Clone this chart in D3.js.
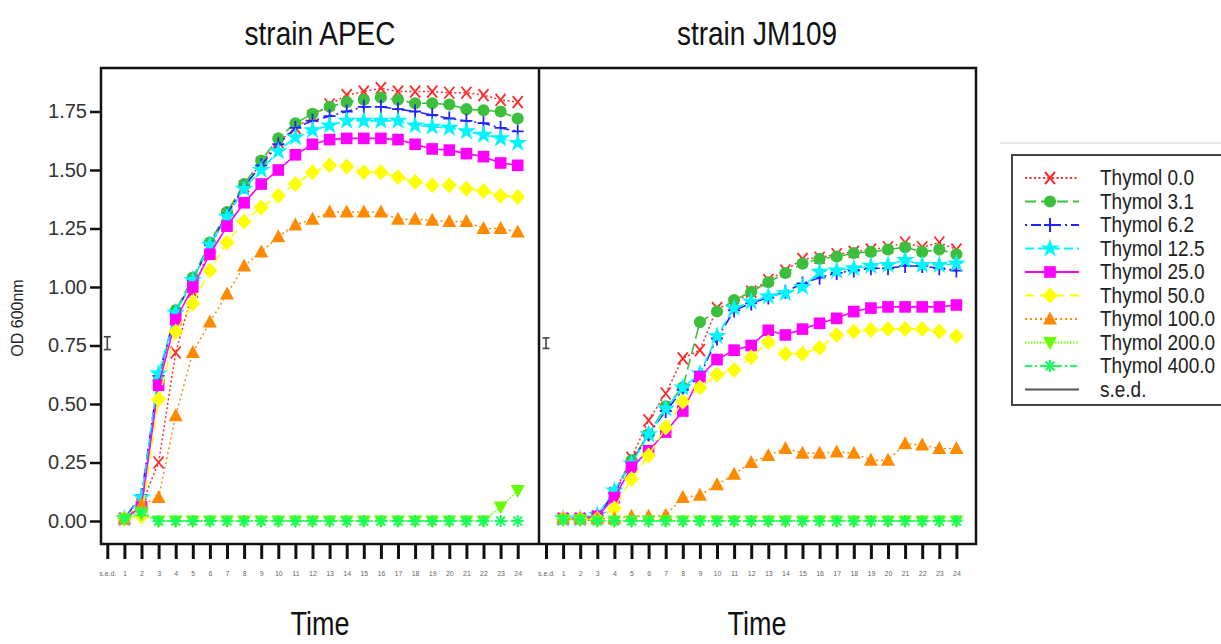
<!DOCTYPE html>
<html>
<head>
<meta charset="utf-8" />
<title>Thymol growth curves</title>
<script src="https://d3js.org/d3.v7.min.js"></script>
<style>
    body { margin: 0; background-color: white; }
    svg { font-family: 'Liberation Sans', Arial, sans-serif; display: block; }
    .xaxis text { font-size: 7px; fill: #666; }
    .yaxis text { font-size: 20px; fill: #333; }
</style>
</head>
<body>
<div id="container"></div>
<script>
// time points and tick labels
var times = [1, 2, 3, 4, 5, 6, 7, 8, 9, 10, 11, 12, 13, 14, 15, 16, 17, 18, 19, 20, 21, 22, 23, 24];
var xTickLabels = ["s.e.d.", "1", "2", "3", "4", "5", "6", "7", "8", "9", "10", "11", "12",
    "13", "14", "15", "16", "17", "18", "19", "20", "21", "22", "23", "24"];
var yTicks = [0, 0.25, 0.5, 0.75, 1.0, 1.25, 1.5, 1.75];
var seriesNames = ["Thymol 0.0", "Thymol 3.1", "Thymol 6.2", "Thymol 12.5", "Thymol 25.0",
    "Thymol 50.0", "Thymol 100.0", "Thymol 200.0", "Thymol 400.0"];
var panelTitles = ["strain APEC", "strain JM109"];

// strain APEC (OD 600nm)
var apec00 = [0.01, 0.07, 0.25, 0.72, 0.98, 1.17, 1.31, 1.43, 1.53, 1.62, 1.68, 1.73, 1.78, 1.82, 1.835, 1.85, 1.835, 1.835, 1.835, 1.83, 1.83, 1.82, 1.80, 1.79];
var apec31 = [0.01, 0.06, 0.60, 0.90, 1.04, 1.19, 1.32, 1.44, 1.54, 1.635, 1.70, 1.74, 1.77, 1.79, 1.80, 1.81, 1.80, 1.785, 1.785, 1.78, 1.76, 1.755, 1.75, 1.72];
var apec62 = [0.01, 0.11, 0.62, 0.89, 1.03, 1.18, 1.31, 1.43, 1.52, 1.61, 1.68, 1.71, 1.73, 1.75, 1.77, 1.77, 1.76, 1.75, 1.735, 1.72, 1.71, 1.70, 1.68, 1.665];
var apec125 = [0.01, 0.10, 0.63, 0.89, 1.03, 1.18, 1.30, 1.42, 1.50, 1.58, 1.64, 1.67, 1.69, 1.71, 1.71, 1.71, 1.71, 1.69, 1.685, 1.68, 1.665, 1.65, 1.635, 1.615];
var apec250 = [0.01, 0.06, 0.58, 0.86, 1.00, 1.14, 1.26, 1.36, 1.44, 1.50, 1.565, 1.61, 1.63, 1.635, 1.635, 1.635, 1.63, 1.61, 1.59, 1.585, 1.57, 1.557, 1.53, 1.52];
var apec500 = [0.01, 0.02, 0.52, 0.81, 0.93, 1.07, 1.19, 1.28, 1.34, 1.39, 1.44, 1.49, 1.52, 1.515, 1.49, 1.49, 1.47, 1.45, 1.435, 1.435, 1.42, 1.41, 1.39, 1.385];
var apec1000 = [0.01, 0.07, 0.10, 0.45, 0.72, 0.85, 0.97, 1.09, 1.15, 1.215, 1.265, 1.29, 1.32, 1.32, 1.32, 1.32, 1.29, 1.29, 1.285, 1.28, 1.28, 1.25, 1.25, 1.235];
var apec2000 = [0.01, 0.03, 0, 0, 0, 0, 0, 0, 0, 0, 0, 0, 0, 0, 0, 0, 0, 0, 0, 0, 0, 0, 0.06, 0.13];
var apec4000 = [0.01, 0.04, 0, 0, 0, 0, 0, 0, 0, 0, 0, 0, 0, 0, 0, 0, 0, 0, 0, 0, 0, 0, 0, 0];

// strain JM109 (OD 600nm)
var jm00 = [0.01, 0.01, 0.02, 0.12, 0.27, 0.43, 0.545, 0.695, 0.73, 0.91, 0.93, 0.98, 1.03, 1.07, 1.12, 1.125, 1.14, 1.15, 1.16, 1.17, 1.19, 1.17, 1.19, 1.16];
var jm31 = [0.01, 0.01, 0.02, 0.12, 0.26, 0.37, 0.49, 0.57, 0.85, 0.895, 0.944, 0.98, 1.02, 1.06, 1.10, 1.12, 1.13, 1.145, 1.15, 1.16, 1.17, 1.15, 1.16, 1.14];
var jm62 = [0.01, 0.01, 0.02, 0.12, 0.25, 0.37, 0.47, 0.56, 0.62, 0.78, 0.90, 0.93, 0.955, 0.98, 1.015, 1.04, 1.06, 1.07, 1.08, 1.08, 1.09, 1.09, 1.08, 1.07];
var jm125 = [0.01, 0.01, 0.025, 0.13, 0.245, 0.37, 0.48, 0.57, 0.63, 0.79, 0.91, 0.937, 0.96, 0.973, 1.0, 1.065, 1.07, 1.08, 1.09, 1.094, 1.115, 1.094, 1.094, 1.10];
var jm250 = [0.01, 0.01, 0.02, 0.10, 0.23, 0.30, 0.38, 0.47, 0.617, 0.69, 0.73, 0.75, 0.815, 0.795, 0.82, 0.845, 0.866, 0.895, 0.91, 0.915, 0.915, 0.915, 0.915, 0.923];
var jm500 = [0.01, 0.01, 0.01, 0.055, 0.18, 0.28, 0.40, 0.51, 0.57, 0.625, 0.645, 0.70, 0.765, 0.715, 0.715, 0.74, 0.795, 0.81, 0.816, 0.82, 0.82, 0.82, 0.81, 0.79];
var jm1000 = [0.01, 0.01, 0.01, 0.01, 0.02, 0.02, 0.025, 0.10, 0.11, 0.155, 0.20, 0.25, 0.28, 0.31, 0.29, 0.29, 0.295, 0.29, 0.26, 0.26, 0.33, 0.325, 0.31, 0.31];
var jm2000 = [0.005, 0.005, 0, 0, 0, 0, 0, 0, 0, 0, 0, 0, 0, 0, 0, 0, 0, 0, 0, 0, 0, 0, 0, 0];
var jm4000 = [0.005, 0.005, 0, 0, 0, 0, 0, 0, 0, 0, 0, 0, 0, 0, 0, 0, 0, 0, 0, 0, 0, 0, 0, 0];

// s.e.d. bars (centre, full length)
var sedCentre = [0.76, 0.76];
var sedLength = [0.055, 0.045];

var apecSeries = [apec00, apec31, apec62, apec125, apec250, apec500, apec1000, apec2000, apec4000];
var jmSeries = [jm00, jm31, jm62, jm125, jm250, jm500, jm1000, jm2000, jm4000];

/* line + marker styles, one per thymol level */
var styles = [
    { color: "#ff2a2a", dash: "2,2.5", width: 1.5, marker: "x" },
    { color: "#3cbf3c", dash: "11,5", width: 1.6, marker: "circle" },
    { color: "#2222ff", dash: "2,4,10,4", width: 1.6, marker: "plus" },
    { color: "#00f5ff", dash: "9,4", width: 1.6, marker: "star" },
    { color: "#ff00ff", dash: null, width: 1.6, marker: "square" },
    { color: "#ffff00", dash: "9,6", width: 1.6, marker: "diamond" },
    { color: "#ff8a00", dash: "2,3", width: 1.5, marker: "triangle" },
    { color: "#66ff00", dash: "1.5,1.5", width: 1.5, marker: "triangleDown" },
    { color: "#18ff60", dash: "7,3,2,3", width: 1.5, marker: "asterisk" }
];

var width = 1221, height = 644;
var plotTop = 68, plotBottom = 544, plotLeft = 101, plotMid = 539, plotRight = 976;

var svg = d3.select("#container").append("svg")
    .attr("width", width).attr("height", height);

var y = d3.scaleLinear().domain([0, 1.75]).range([521, 111.5]);
var xScales = [
    d3.scaleLinear().domain([0, 24]).range([107.3, 517.7]),
    d3.scaleLinear().domain([0, 24]).range([546, 956.4])
];

function markerPath(type) {
    switch (type) {
        case "circle": return d3.symbol(d3.symbolCircle, 115)();
        case "square": return d3.symbol(d3.symbolSquare, 135)();
        case "diamond": return "M0,-8L7.5,0L0,8L-7.5,0Z";
        case "triangle": return "M0,-7.5L7,5.5L-7,5.5Z";
        case "triangleDown": return "M0,7.5L7,-5.5L-7,-5.5Z";
        case "star": return d3.symbol(d3.symbolStar, 110)();
        case "x": return "M-5,-6L5,6M-5,6L5,-6";
        case "plus": return "M-6,0L6,0M0,-7L0,7";
        case "asterisk": return "M-6,0L6,0M0,-6L0,6M-4.5,-4.5L4.5,4.5M-4.5,4.5L4.5,-4.5";
    }
}
function isStroke(type) { return type === "x" || type === "plus" || type === "asterisk"; }

function tallText(g, x, yy, txt, size, sy, anchor) {
    return g.append("text")
        .attr("transform", "translate(" + x + "," + yy + ") scale(1," + sy + ")")
        .attr("text-anchor", anchor || "middle")
        .style("font-size", size + "px")
        .style("fill", "#111")
        .text(txt);
}

/* right-hand page decoration */
svg.append("line").attr("x1", 1000).attr("x2", width).attr("y1", 143).attr("y2", 143)
    .attr("stroke", "#e2e2e2").attr("stroke-width", 1.5);

/* panel titles and x titles */
[panelTitles[0], panelTitles[1]].forEach(function (t, i) {
    var cx = i === 0 ? 320 : 757;
    tallText(svg, cx, 45, t, 28, 1.18);
    tallText(svg, cx, 635, "Time", 27, 1.2);
});

svg.append("text")
    .attr("transform", "translate(23,318) rotate(-90)")
    .attr("text-anchor", "middle")
    .style("font-size", "16px").style("fill", "#222")
    .text("OD 600nm");

/* y axis */
var yAxis = svg.append("g").attr("class", "yaxis")
    .attr("transform", "translate(" + plotLeft + ",0)")
    .call(d3.axisLeft(y).tickValues(yTicks).tickSize(11).tickPadding(3).tickFormat(d3.format(".2f")));
yAxis.select(".domain").remove();
yAxis.selectAll("line").attr("stroke", "#111").attr("stroke-width", 2.5);

/* x axes */
xScales.forEach(function (x) {
    var ax = svg.append("g").attr("class", "xaxis")
        .attr("transform", "translate(0," + plotBottom + ")")
        .call(d3.axisBottom(x).tickValues(d3.range(0, 25)).tickSize(15).tickPadding(12)
            .tickFormat(function (d, i) { return xTickLabels[i]; }));
    ax.select(".domain").remove();
    ax.selectAll("line").attr("stroke", "#111").attr("stroke-width", 3);
});

/* data */
[apecSeries, jmSeries].forEach(function (series, p) {
    var x = xScales[p];
    var g = svg.append("g");
    var line = d3.line().x(function (d, i) { return x(times[i]); }).y(function (d) { return y(d); });

    series.forEach(function (vals, k) {
        var st = styles[k];
        g.append("path").datum(vals)
            .attr("d", line)
            .attr("fill", "none")
            .attr("stroke", st.color)
            .attr("stroke-width", st.width)
            .attr("stroke-dasharray", st.dash);
        g.selectAll(".m" + k).data(vals).enter().append("path")
            .attr("class", "m" + k)
            .attr("transform", function (d, i) { return "translate(" + x(times[i]) + "," + y(d) + ")"; })
            .attr("d", markerPath(st.marker))
            .attr("fill", isStroke(st.marker) ? "none" : st.color)
            .attr("stroke", isStroke(st.marker) ? st.color : "none")
            .attr("stroke-width", 1.8);
    });

    // s.e.d. I-bar at the s.e.d. tick
    var sx = x(0), y1 = y(sedCentre[p] + sedLength[p] / 2), y2 = y(sedCentre[p] - sedLength[p] / 2);
    var sg = g.append("g").attr("stroke", "#444").attr("stroke-width", 1.6);
    sg.append("line").attr("x1", sx).attr("x2", sx).attr("y1", y1).attr("y2", y2);
    sg.append("line").attr("x1", sx - 3.5).attr("x2", sx + 3.5).attr("y1", y1).attr("y2", y1);
    sg.append("line").attr("x1", sx - 3.5).attr("x2", sx + 3.5).attr("y1", y2).attr("y2", y2);
});

/* panel frames */
svg.append("rect")
    .attr("x", plotLeft).attr("y", plotTop)
    .attr("width", plotRight - plotLeft).attr("height", plotBottom - plotTop)
    .attr("fill", "none").attr("stroke", "#111").attr("stroke-width", 2.5);
svg.append("line")
    .attr("x1", plotMid).attr("x2", plotMid).attr("y1", plotTop).attr("y2", plotBottom)
    .attr("stroke", "#111").attr("stroke-width", 2.5);

/* legend */
var legend = svg.append("g");
legend.append("rect")
    .attr("x", 1012).attr("y", 155).attr("width", 230).attr("height", 250)
    .attr("fill", "white").attr("stroke", "#444").attr("stroke-width", 2);

var rowY = d3.scaleLinear().domain([0, 9]).range([178, 389.5]);
seriesNames.concat(["s.e.d."]).forEach(function (name, k) {
    var ry = rowY(k);
    var row = legend.append("g");
    if (k < styles.length) {
        var st = styles[k];
        row.append("line").attr("x1", 1025).attr("x2", 1079).attr("y1", ry).attr("y2", ry)
            .attr("stroke", st.color).attr("stroke-width", 2.2).attr("stroke-dasharray", st.dash);
        row.append("path")
            .attr("transform", "translate(1050," + ry + ")")
            .attr("d", markerPath(st.marker))
            .attr("fill", isStroke(st.marker) ? "none" : st.color)
            .attr("stroke", isStroke(st.marker) ? st.color : "none")
            .attr("stroke-width", 2);
    } else {
        row.append("line").attr("x1", 1025).attr("x2", 1079).attr("y1", ry).attr("y2", ry)
            .attr("stroke", "#555").attr("stroke-width", 2.2);
    }
    tallText(row, 1100, ry + 7, name, 19, 1.15, "start").style("fill", "#222");
});
</script>
</body>
</html>
